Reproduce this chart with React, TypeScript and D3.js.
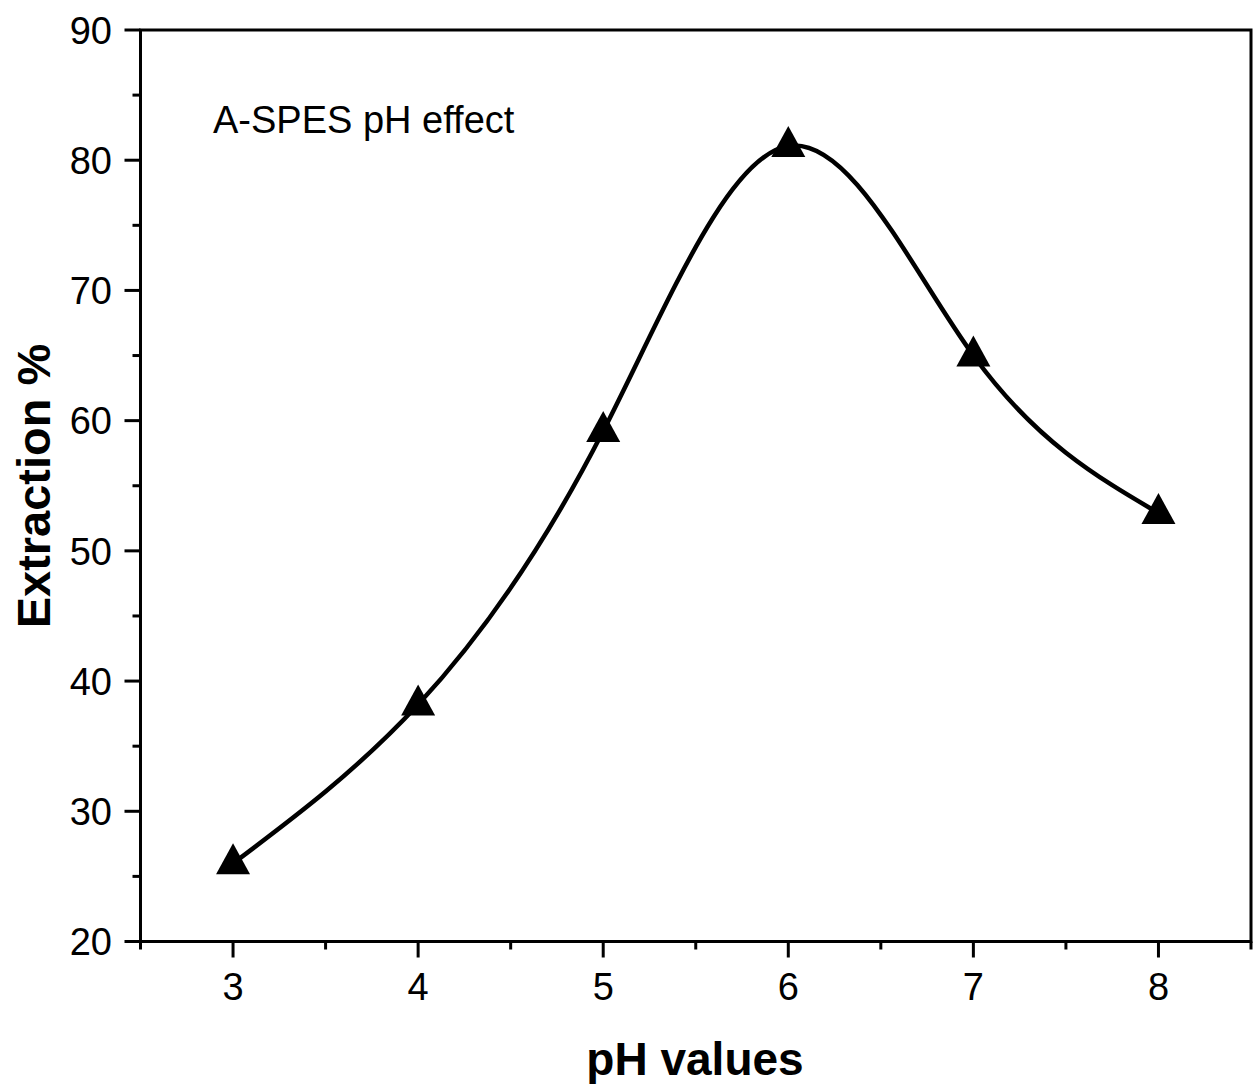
import React from "react";
import * as d3 from "d3";

const phValues = [3, 4, 5, 6, 7, 8];
const extraction = [26, 38.2, 59.2, 81.1, 65, 52.9];
const xTickValues = [3, 4, 5, 6, 7, 8];
const xMinorValues = [2.5, 3.5, 4.5, 5.5, 6.5, 7.5, 8.5];
const yTickValues = [20, 30, 40, 50, 60, 70, 80, 90];
const yMinorValues = [25, 35, 45, 55, 65, 75, 85];
const annotation = "A-SPES pH effect";
const xTitle = "pH values";
const yTitle = "Extraction %";

const W = 1254;
const H = 1084;
const FONT = "'Liberation Sans', Arial, sans-serif";

export default function App() {
  const x = d3.scaleLinear().domain([2.5, 8.5]).range([140.5, 1251]);
  const y = d3.scaleLinear().domain([20, 90]).range([941.5, 30]);
  const pts = phValues.map((p, i) => [x(p), y(extraction[i])] as [number, number]);
  const line = d3.line().curve(d3.curveNatural)(pts) || "";
  const tri = (cx: number, cy: number) =>
    `M${cx},${cy - 20}L${cx + 17},${cy + 11}L${cx - 17},${cy + 11}Z`;

  return (
    <svg
      width={W}
      height={H}
      style={{ position: "absolute", left: 0, top: 0, background: "#fff" }}
    >
      <rect x={0} y={0} width={W} height={H} fill="#fff" />
      <rect
        x={x(2.5)}
        y={y(90)}
        width={x(8.5) - x(2.5)}
        height={y(20) - y(90)}
        fill="none"
        stroke="#000"
        strokeWidth={3}
      />
      {xTickValues.map((t) => (
        <g key={"xt" + t}>
          <line x1={x(t)} x2={x(t)} y1={y(20)} y2={y(20) + 16} stroke="#000" strokeWidth={3} />
          <text
            x={x(t)}
            y={1000}
            textAnchor="middle"
            fontFamily={FONT}
            fontSize={38}
            fill="#000"
          >
            {t}
          </text>
        </g>
      ))}
      {xMinorValues.map((t) => (
        <line key={"xm" + t} x1={x(t)} x2={x(t)} y1={y(20)} y2={y(20) + 8} stroke="#000" strokeWidth={3} />
      ))}
      {yTickValues.map((t) => (
        <g key={"yt" + t}>
          <line x1={x(2.5) - 16} x2={x(2.5)} y1={y(t)} y2={y(t)} stroke="#000" strokeWidth={3} />
          <text
            x={112}
            y={y(t)}
            dy="0.36em"
            textAnchor="end"
            fontFamily={FONT}
            fontSize={38}
            fill="#000"
          >
            {t}
          </text>
        </g>
      ))}
      {yMinorValues.map((t) => (
        <line key={"ym" + t} x1={x(2.5) - 8} x2={x(2.5)} y1={y(t)} y2={y(t)} stroke="#000" strokeWidth={3} />
      ))}
      <path d={line} fill="none" stroke="#000" strokeWidth={4.5} />
      {pts.map(([cx, cy], i) => (
        <path key={"m" + i} d={tri(cx, cy)} fill="#000" />
      ))}
      <text x={213} y={133} fontFamily={FONT} fontSize={38} fill="#000">
        {annotation}
      </text>
      <text
        x={695}
        y={1075}
        textAnchor="middle"
        fontFamily={FONT}
        fontWeight="bold"
        fontSize={46}
        fill="#000"
      >
        {xTitle}
      </text>
      <text
        transform={`translate(50,486) rotate(-90)`}
        textAnchor="middle"
        fontFamily={FONT}
        fontWeight="bold"
        fontSize={47}
        fill="#000"
      >
        {yTitle}
      </text>
    </svg>
  );
}
